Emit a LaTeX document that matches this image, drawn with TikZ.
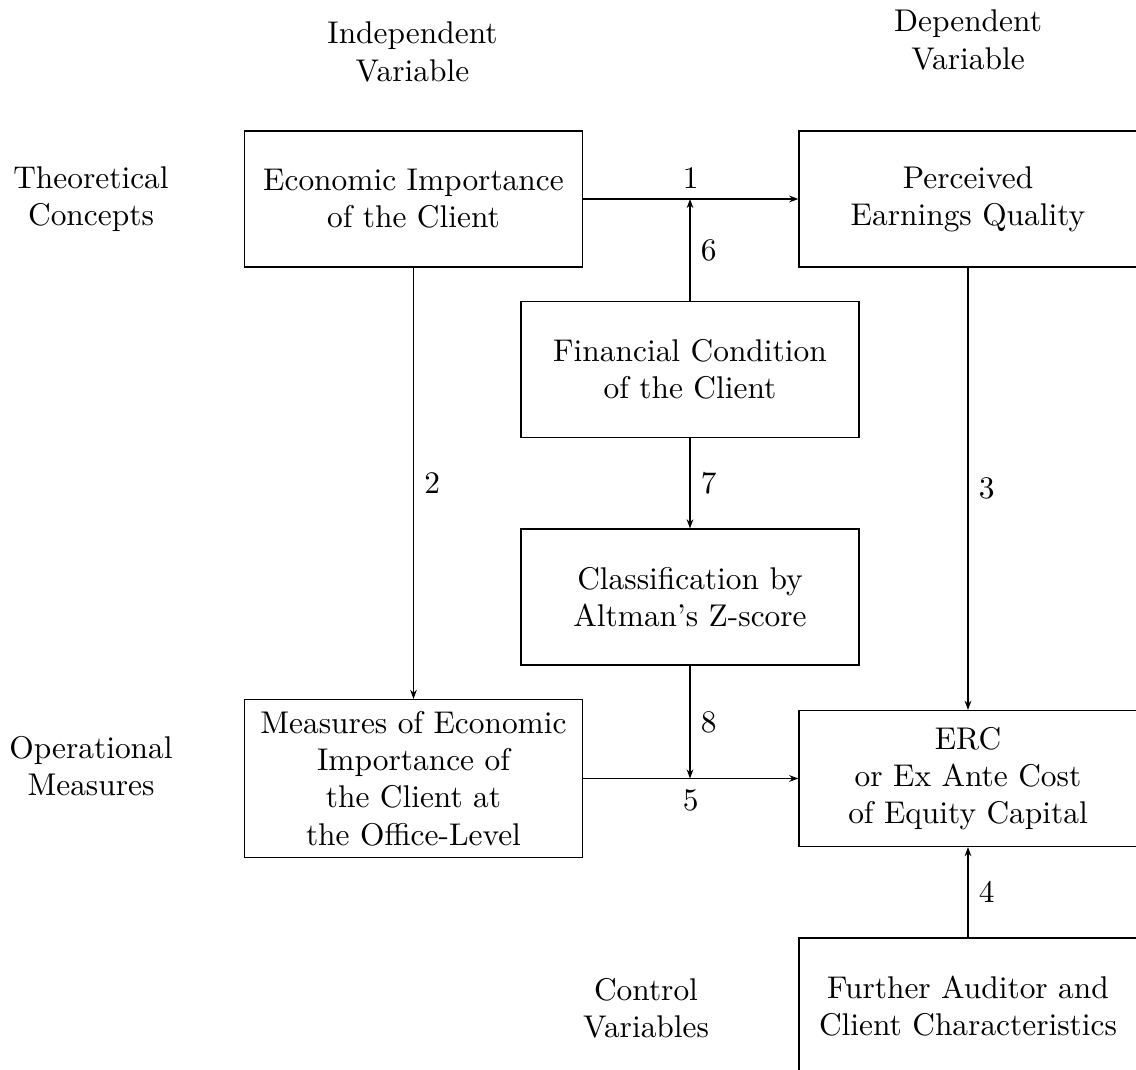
\documentclass[tikz,border=0pt]{standalone}
\usetikzlibrary{arrows.meta}
\begin{document}
\begin{tikzpicture}[x=0.328pt,y=-0.328pt,
  every node/.style={font=\fontsize{10.3pt}{12.2pt}\selectfont},
  box/.style={draw,align=center,minimum width=110.9pt,minimum height=44.6pt,inner sep=0pt},
  lbl/.style={align=center,inner sep=0pt},
  arr/.style={-{Stealth[length=3pt,width=2.2pt]}},
]
\useasboundingbox (0,0) rectangle (1136,1070);
% headers
\node[lbl] (indep) at (412.5,52) {Independent\\Variable};
\node[lbl] (dep) at (968,40) {Dependent\\Variable};
\node[lbl] (theo) at (91,199) {Theoretical\\Concepts};
\node[lbl] (oper) at (91,766.5) {Operational\\Measures};
\node[lbl] (ctrl) at (646,1008) {Control\\Variables};
% boxes
\node[box] (eco) at (413.5,199) {Economic Importance\\of the Client};
\node[box] (per) at (968,199) {Perceived\\Earnings Quality};
\node[box] (fin) at (690,369.5) {Financial Condition\\of the Client};
\node[box] (cls) at (690,597) {Classification by\\Altman's Z-score};
\node[box,minimum height=51.8pt] (meas) at (413.5,778.5) {Measures of Economic\\Importance of\\the Client at\\the Office-Level};
\node[box] (erc) at (968,778.5) {ERC\\or Ex Ante Cost\\of Equity Capital};
\node[box] (fur) at (968,1006) {Further Auditor and\\Client Characteristics};
% junctions
\coordinate (j1) at (fin.north |- eco.east);
\coordinate (j2) at (cls.south |- meas.east);
% connectors
\draw[arr] (eco) -- node[above]{1} (per);
\draw[arr] (fin) -- node[right]{6} (j1);
\draw[arr] (eco) -- node[right]{2} (meas);
\draw[arr] (per) -- node[right]{3} (erc);
\draw[arr] (fin) -- node[right]{7} (cls);
\draw[arr] (cls) -- node[right]{8} (j2);
\draw[arr] (meas) -- node[below]{5} (erc);
\draw[arr] (fur) -- node[right]{4} (erc);
\end{tikzpicture}
\end{document}
